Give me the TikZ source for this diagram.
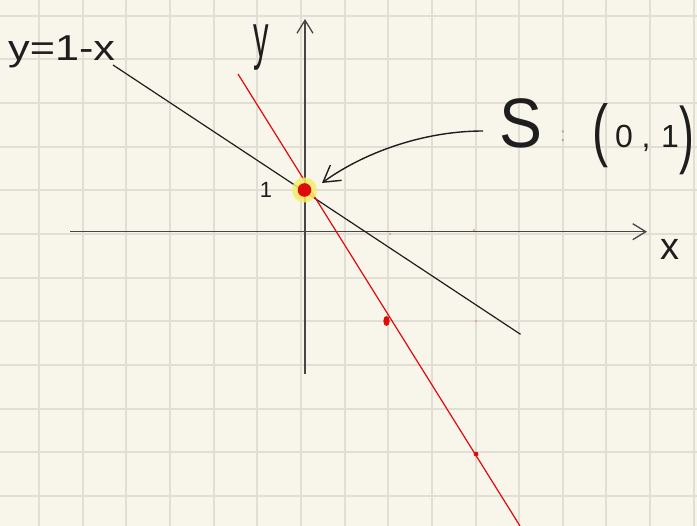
\documentclass[tikz,border=0pt]{standalone}
\usepackage{fontspec}
\setmainfont{Liberation Sans}
\usetikzlibrary{arrows.meta}
\definecolor{paper}{RGB}{248,246,235}
\definecolor{gridc}{RGB}{225,223,211}
\definecolor{axisc}{RGB}{70,70,70}
\definecolor{penred}{RGB}{225,10,10}
\definecolor{hlyellow}{RGB}{244,238,105}
\definecolor{ink}{RGB}{30,30,30}
\tikzset{
  gridline/.style={gridc, line width=2pt},
  axisline/.style={axisc, line width=1.6pt, -{Straight Barb[length=13pt,width=16pt,line width=1.3pt]}},
  blackline/.style={ink, line width=1.2pt},
  redline/.style={penred, line width=1.2pt},
  hand/.style={inner sep=0pt, text=ink},
  pointer/.style={ink, line width=1.4pt, -{Straight Barb[length=16pt,width=19pt,line width=1.4pt]}},
}
\begin{document}
\begin{tikzpicture}[x=1pt,y=-1pt]
\fill[paper] (0,0) rectangle (697,526);
\useasboundingbox (0,0) rectangle (697,526);
% grid paper
\foreach \k in {-1,...,15} \draw[gridline] ({39+43.65*\k},0) -- ++(0,526);
\foreach \k in {-1,...,12} \draw[gridline] (0,{15.7+43.65*\k}) -- ++(697,0);
% axes
\coordinate (ybot) at (305,374);
\coordinate (ytop) at (305,19);
\coordinate (xleft) at (70,231.7);
\coordinate (xright) at (647,231.7);
\draw[axisline] (ybot) -- (ytop);
\draw[axisline] (xleft) -- (xright);
% lines
\coordinate (bA) at (113,65);
\coordinate (bB) at (520.5,334.3);
\draw[blackline] (bA) -- (bB);
\coordinate (rA) at (238,74);
\coordinate (rB) at (520,526);
\draw[redline] (rA) -- (rB);
% highlighted point
\fill[hlyellow, opacity=0.85] (304.5,190) circle (12.5);
\fill[penred] (304.5,190) circle (6.8);
\fill[penred] (386.5,321) ellipse (3.2 and 5);
\fill[penred] (476,454) circle (2.4);
\fill[penred!60] (390,234) circle (0.8);
\fill[penred!60] (474,230) circle (0.8);
\fill[penred!60] (476,321) circle (0.8);
% labels
\node[hand, anchor=base west] (eq) at (8,61) {\scalebox{1.2}[1]{\fontsize{36}{36}\selectfont y=1-x}};
\node[hand, anchor=base] (ylab) at (261,58) {\scalebox{0.5}[1]{\fontsize{62}{62}\selectfont y}};
\node[hand, anchor=base] (one) at (266,198) {\fontsize{22}{22}\selectfont 1};
\node[hand, anchor=base] (xlab) at (670,260) {\fontsize{38}{38}\selectfont x};
\node[hand, anchor=base] (S) at (521,148) {\scalebox{0.92}[1]{\fontsize{70}{70}\selectfont S}};
\node[inner sep=0pt, text=black!35, anchor=base] (colon) at (563,142) {\fontsize{20}{20}\selectfont :};
\node[hand, anchor=base] (lp) at (601,153.5) {\scalebox{0.7}[1]{\fontsize{69}{69}\selectfont (}};
\node[hand, anchor=base] (zero) at (624,148) {\fontsize{32}{32}\selectfont 0};
\node[hand, anchor=base] (comma) at (646,148) {\fontsize{32}{32}\selectfont ,};
\node[hand, anchor=base] (oneb) at (670,148) {\fontsize{32}{32}\selectfont 1};
\node[hand, anchor=base] (rp) at (687,159.5) {\scalebox{0.6}[1]{\fontsize{74}{74}\selectfont )}};
% pointer arrow
\coordinate (pS) at (483,131);
\coordinate (pE) at (322,183);
\draw[pointer] (pS) .. controls (420,131) and (360,155) .. (pE);
\end{tikzpicture}
\end{document}
